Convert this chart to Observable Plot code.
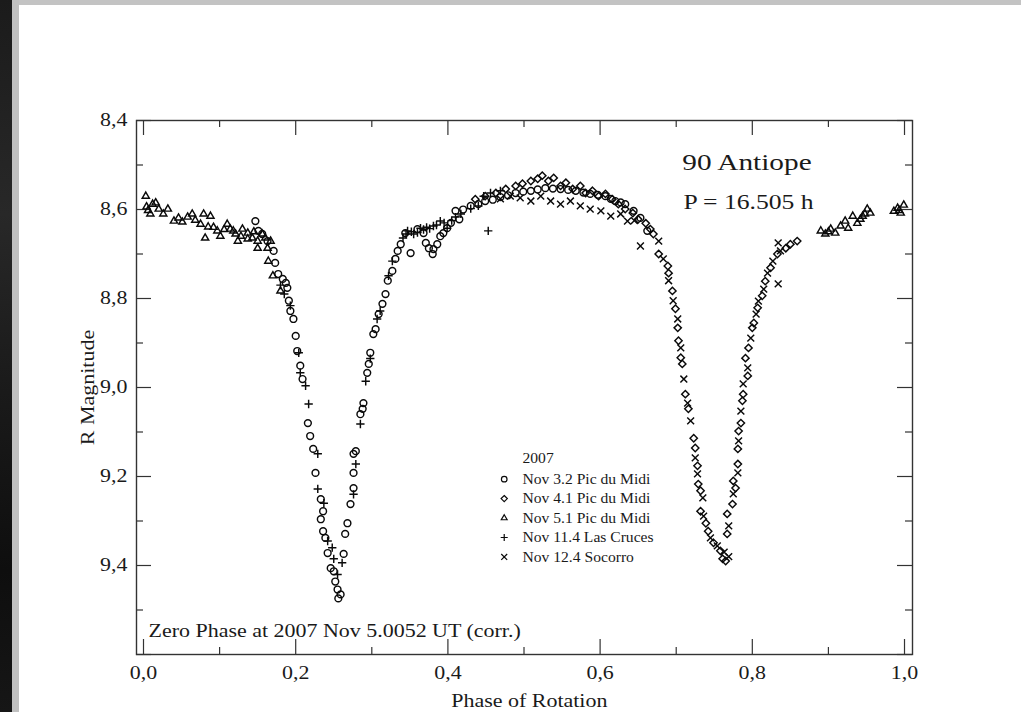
<!DOCTYPE html>
<html><head><meta charset="utf-8">
<script src="https://cdn.jsdelivr.net/npm/d3@7"></script>
<script src="https://cdn.jsdelivr.net/npm/@observablehq/plot@0.6"></script>
<style>
html,body{margin:0;padding:0;background:#fff;overflow:hidden;}
#wrap{position:relative;width:1021px;height:712px;background:#fff;}
#chart{position:absolute;left:0;top:0;}
.strip{position:absolute;}
</style></head><body>
<div id="wrap">
<div id="chart"></div>
<div class="strip" style="left:0;top:0;width:1021px;height:5px;background:#c3c3c3"></div>
<div class="strip" style="left:0;top:0;width:12px;height:712px;background:linear-gradient(#1b1b1b,#282828 30%,#1a1a1a 55%,#0e0e0e 80%,#161616)"></div>
<div class="strip" style="left:12px;top:0;width:7px;height:712px;background:#c0c0c0"></div>
</div>
<script>
// ---- tick values ----
const xMajor = [0, 0.2, 0.4, 0.6, 0.8, 1.0];
const xMinor = [0.1, 0.3, 0.5, 0.7, 0.9];
const yMajor = [8.4, 8.6, 8.8, 9.0, 9.2, 9.4, 9.6];
const yMinor = [8.5, 8.7, 8.9, 9.1, 9.3, 9.5];
const yLabels = [8.4, 8.6, 8.8, 9.0, 9.2, 9.4];

// ---- texts ----
const titleText = "90 Antiope";
const periodText = "P = 16.505 h";
const zeroPhaseText = "Zero Phase at 2007 Nov 5.0052 UT (corr.)";
const xTitle = "Phase of Rotation";
const yTitle = "R Magnitude";
const legendYear = "2007";
const legendLabels = ["Nov 3.2 Pic du Midi", "Nov 4.1 Pic du Midi", "Nov 5.1 Pic du Midi", "Nov 11.4 Las Cruces", "Nov 12.4 Socorro"];
const legendSymbols = ["circle", "diamond2", "triangle2", "plus", "times"];

// ---- data: [phase, R magnitude] ----
const nov05 = [ // triangles, Pic du Midi Nov 5.1
  [0.003,8.570],[0.004,8.594],[0.006,8.602],[0.009,8.610],[0.012,8.588],[0.016,8.585],[0.020,8.599],[0.026,8.610],
  [0.032,8.599],[0.040,8.626],[0.046,8.619],[0.051,8.628],[0.058,8.617],[0.064,8.610],[0.068,8.624],[0.075,8.633],
  [0.079,8.610],[0.081,8.664],[0.085,8.639],[0.088,8.615],[0.092,8.640],[0.097,8.648],[0.101,8.660],[0.106,8.645],
  [0.110,8.633],[0.114,8.644],[0.118,8.648],[0.121,8.655],[0.124,8.671],[0.128,8.660],[0.130,8.644],[0.137,8.653],
  [0.137,8.666],[0.143,8.664],[0.145,8.650],[0.150,8.671],[0.150,8.687],[0.156,8.655],[0.160,8.664],[0.163,8.687],
  [0.164,8.716],[0.167,8.671],[0.170,8.749],[0.180,8.783],
  [0.890,8.648],[0.896,8.655],[0.900,8.650],[0.903,8.644],[0.909,8.653],[0.916,8.637],[0.922,8.626],[0.926,8.642],
  [0.932,8.615],[0.938,8.631],[0.942,8.622],[0.945,8.615],[0.948,8.610],[0.951,8.599],[0.955,8.608],
  [0.986,8.604],[0.991,8.597],[0.993,8.602],[0.995,8.608],[0.999,8.590]
];
const nov03 = [ // circles, Pic du Midi Nov 3.2
  [0.147,8.626],[0.151,8.648],[0.156,8.655],[0.163,8.671],[0.171,8.693],[0.173,8.720],[0.177,8.745],[0.183,8.756],
  [0.187,8.765],[0.189,8.776],[0.191,8.805],[0.193,8.828],[0.197,8.846],[0.200,8.884],[0.202,8.918],[0.206,8.951],
  [0.209,8.981],[0.216,9.080],[0.219,9.109],[0.223,9.138],[0.226,9.192],[0.233,9.251],[0.236,9.278],[0.233,9.296],
  [0.236,9.323],[0.239,9.338],[0.242,9.372],[0.246,9.406],[0.250,9.413],[0.252,9.436],[0.255,9.454],[0.259,9.465],
  [0.256,9.474],
  [0.263,9.374],[0.265,9.329],[0.268,9.305],[0.272,9.262],[0.276,9.226],[0.276,9.192],[0.279,9.143],[0.276,9.149],
  [0.285,9.060],[0.288,9.048],[0.289,9.035],[0.294,8.967],[0.296,8.947],[0.298,8.922],[0.302,8.880],[0.305,8.869],
  [0.309,8.835],[0.314,8.812],[0.318,8.790],[0.321,8.760],[0.327,8.738],[0.331,8.711],[0.334,8.693],[0.338,8.678],
  [0.344,8.653],[0.351,8.698],[0.360,8.644],[0.368,8.653],[0.371,8.675],[0.375,8.687],[0.380,8.700],[0.381,8.689],
  [0.386,8.678],[0.390,8.660],[0.394,8.653],[0.399,8.642],[0.404,8.630],[0.415,8.622],
  [0.410,8.603],[0.420,8.600],[0.430,8.592],[0.440,8.588],[0.449,8.581],[0.459,8.578],[0.469,8.572],[0.479,8.568],
  [0.489,8.563],[0.499,8.560],[0.509,8.558],[0.518,8.555],[0.528,8.552],[0.538,8.553],[0.548,8.554],[0.558,8.556],
  [0.568,8.558],[0.578,8.562],[0.587,8.565],[0.597,8.567],[0.607,8.570],[0.614,8.576],[0.620,8.581],[0.627,8.584],
  [0.633,8.588],[0.644,8.603],[0.653,8.619],[0.662,8.648]
];
const nov11 = [ // plus, Las Cruces Nov 11.4
  [0.180,8.770],[0.185,8.790],[0.193,8.816],[0.204,8.922],[0.206,8.967],[0.213,8.996],[0.217,9.037],[0.229,9.149],
  [0.229,9.228],[0.237,9.260],[0.242,9.345],[0.248,9.360],[0.250,9.385],[0.255,9.420],[0.261,9.394],[0.276,9.240],
  [0.279,9.172],[0.285,9.082],[0.292,8.986],[0.298,8.935],[0.307,8.846],[0.311,8.828],[0.322,8.749],[0.327,8.716],
  [0.341,8.664],[0.345,8.655],[0.347,8.648],[0.352,8.650],[0.355,8.655],[0.360,8.652],[0.364,8.642],[0.368,8.645],
  [0.372,8.640],[0.376,8.643],[0.381,8.637],[0.385,8.635],[0.390,8.626],[0.395,8.630],[0.399,8.642],[0.405,8.625],
  [0.410,8.617],[0.417,8.610],[0.430,8.598],[0.440,8.592],[0.447,8.570],[0.453,8.648],[0.456,8.563],[0.469,8.558]
];
const nov04 = [ // diamonds, Pic du Midi Nov 4.1
  [0.436,8.577],[0.449,8.570],[0.463,8.563],[0.476,8.554],[0.489,8.547],[0.498,8.542],[0.509,8.536],[0.518,8.531],
  [0.524,8.524],[0.532,8.536],[0.539,8.529],[0.548,8.547],[0.555,8.540],[0.564,8.554],[0.574,8.547],[0.581,8.563],
  [0.590,8.558],[0.598,8.570],[0.607,8.565],[0.616,8.577],[0.624,8.588],[0.633,8.599],[0.643,8.608],[0.650,8.622],
  [0.660,8.631],[0.666,8.644],
  [0.670,8.655],[0.677,8.700],[0.689,8.727],[0.690,8.743],[0.695,8.783],[0.699,8.823],[0.702,8.866],[0.703,8.895],
  [0.706,8.933],[0.708,8.947],[0.712,9.015],[0.716,9.048],[0.723,9.114],[0.725,9.136],[0.728,9.176],[0.729,9.217],
  [0.732,9.232],[0.732,9.278],[0.739,9.305],[0.742,9.323],[0.749,9.349],[0.758,9.367],[0.761,9.385],[0.765,9.390],
  [0.767,9.329],[0.767,9.284],[0.774,9.262],[0.778,9.226],[0.775,9.210],[0.781,9.172],[0.781,9.138],[0.782,9.098],
  [0.785,9.080],[0.787,9.030],[0.788,9.015],[0.794,8.974],[0.791,8.934],[0.795,8.911],[0.800,8.866],[0.802,8.855],
  [0.807,8.821],[0.813,8.794],[0.817,8.761],[0.824,8.731],[0.833,8.700],[0.844,8.687],[0.850,8.678],[0.859,8.671]
];
const nov12 = [ // crosses, Socorro Nov 12.4
  [0.469,8.576],[0.482,8.570],[0.495,8.574],[0.509,8.581],[0.522,8.570],[0.535,8.581],[0.548,8.588],[0.561,8.581],
  [0.574,8.592],[0.587,8.599],[0.601,8.603],[0.614,8.615],[0.627,8.610],[0.636,8.626],[0.645,8.625],[0.653,8.682],
  [0.677,8.671],[0.683,8.711],[0.690,8.760],[0.696,8.805],[0.702,8.846],[0.706,8.911],[0.710,8.981],[0.715,9.035],
  [0.719,9.075],[0.725,9.158],[0.728,9.194],[0.735,9.248],[0.736,9.289],[0.745,9.338],[0.754,9.356],[0.763,9.370],
  [0.769,9.380],
  [0.769,9.311],[0.775,9.239],[0.781,9.192],[0.782,9.120],[0.785,9.053],[0.788,8.992],[0.794,8.956],[0.798,8.889],
  [0.805,8.835],[0.808,8.806],[0.815,8.779],[0.820,8.743],[0.827,8.716],[0.834,8.767],[0.834,8.675],[0.837,8.693]
];

const series = [
  {data: nov05, symbol: "triangle2", r: 3.4},
  {data: nov03, symbol: "circle", r: 3.4},
  {data: nov11, symbol: "plus", r: 2.8},
  {data: nov04, symbol: "diamond2", r: 3.3},
  {data: nov12, symbol: "times", r: 3.2}
];

const fmt = d => d.toFixed(1).replace(".", ",");
const ink = "#0a0a0a";
const frameW = 1021 - 136 - 109, frameH = 712 - 120 - 58;

const chart = Plot.plot({
  width: 1021, height: 712,
  marginLeft: 136, marginRight: 109, marginTop: 120, marginBottom: 58,
  style: {background: "transparent", fontFamily: "'Liberation Serif','Times New Roman',serif", color: "#1a1a1a"},
  x: {domain: [-0.0092, 1.0105], axis: null},
  y: {domain: [8.4, 9.6], reverse: true, axis: null},
  marks: [
    // inward ticks, bottom/top
    Plot.tickX(xMajor, {x: d => d, insetTop: frameH - 15, stroke: "#333", strokeWidth: 1.2}),
    Plot.tickX(xMinor, {x: d => d, insetTop: frameH - 7, stroke: "#333", strokeWidth: 1.2}),
    Plot.tickX(xMajor, {x: d => d, insetBottom: frameH - 15, stroke: "#333", strokeWidth: 1.2}),
    Plot.tickX(xMinor, {x: d => d, insetBottom: frameH - 7, stroke: "#333", strokeWidth: 1.2}),
    // inward ticks, left/right
    Plot.tickY(yMajor, {y: d => d, insetRight: frameW - 15, stroke: "#333", strokeWidth: 1.2}),
    Plot.tickY(yMinor, {y: d => d, insetRight: frameW - 7, stroke: "#333", strokeWidth: 1.2}),
    Plot.tickY(yMajor, {y: d => d, insetLeft: frameW - 15, stroke: "#333", strokeWidth: 1.2}),
    Plot.tickY(yMinor, {y: d => d, insetLeft: frameW - 7, stroke: "#333", strokeWidth: 1.2}),
    Plot.frame({stroke: "#333", strokeWidth: 1.4}),
    // tick labels
    Plot.axisX({ticks: xMajor, tickSize: 0, tickPadding: 12, tickFormat: fmt, label: null, fontSize: 18, fill: "#1a1a1a"}),
    Plot.axisY({ticks: yLabels, tickSize: 0, tickPadding: 9, tickFormat: fmt, label: null, fontSize: 18, fill: "#1a1a1a"}),
    // data
    ...series.map(s => Plot.dot(s.data, {x: d => d[0], y: d => d[1], symbol: s.symbol, r: s.r, stroke: ink, strokeWidth: 1.45, fill: "none"})),
    // annotations
    Plot.text([titleText], {x: 0.793, y: 8.493, text: d => d, fontSize: 24, fill: "#1a1a1a"}),
    Plot.text([periodText], {x: 0.795, y: 8.583, text: d => d, fontSize: 21, fill: "#1a1a1a"}),
    Plot.text([zeroPhaseText], {x: 0.0066, y: 9.547, text: d => d, textAnchor: "start", fontSize: 18, fill: "#1a1a1a"}),
    Plot.text([xTitle], {x: 0.507, y: 9.705, text: d => d, fontSize: 18, fill: "#1a1a1a"}),
    Plot.text([yTitle], {x: -0.0723, y: 9.0, text: d => d, rotate: -90, fontSize: 18, fill: "#1a1a1a"}),
    // legend
    Plot.text([legendYear], {x: 0.498, y: 9.158, text: d => d, textAnchor: "start", fontSize: 15, fill: "#1a1a1a"}),
    Plot.text(legendLabels, {x: 0.498, y: (d, i) => 9.206 + i * 0.0437, text: d => d, textAnchor: "start", fontSize: 15, fill: "#1a1a1a"}),
    ...legendSymbols.map((sym, i) => Plot.dot([sym], {x: 0.474, y: 9.206 + i * 0.0437, symbol: sym, r: sym === "plus" ? 2.4 : 2.8, stroke: ink, strokeWidth: 1.2, fill: "none"}))
  ]
});
document.getElementById("chart").append(chart);

// widen glyphs horizontally to match the stretched original figure
chart.querySelectorAll("text").forEach(t => {
  const s = t.textContent;
  if (!s) return;
  const f = (s.startsWith("Nov") || s === legendYear) ? 1.04 : 1.22;
  const L = t.getComputedTextLength();
  if (L > 0) {
    t.setAttribute("textLength", (L * f).toFixed(1));
    t.setAttribute("lengthAdjust", "spacingAndGlyphs");
  }
});
</script>
</body></html>
